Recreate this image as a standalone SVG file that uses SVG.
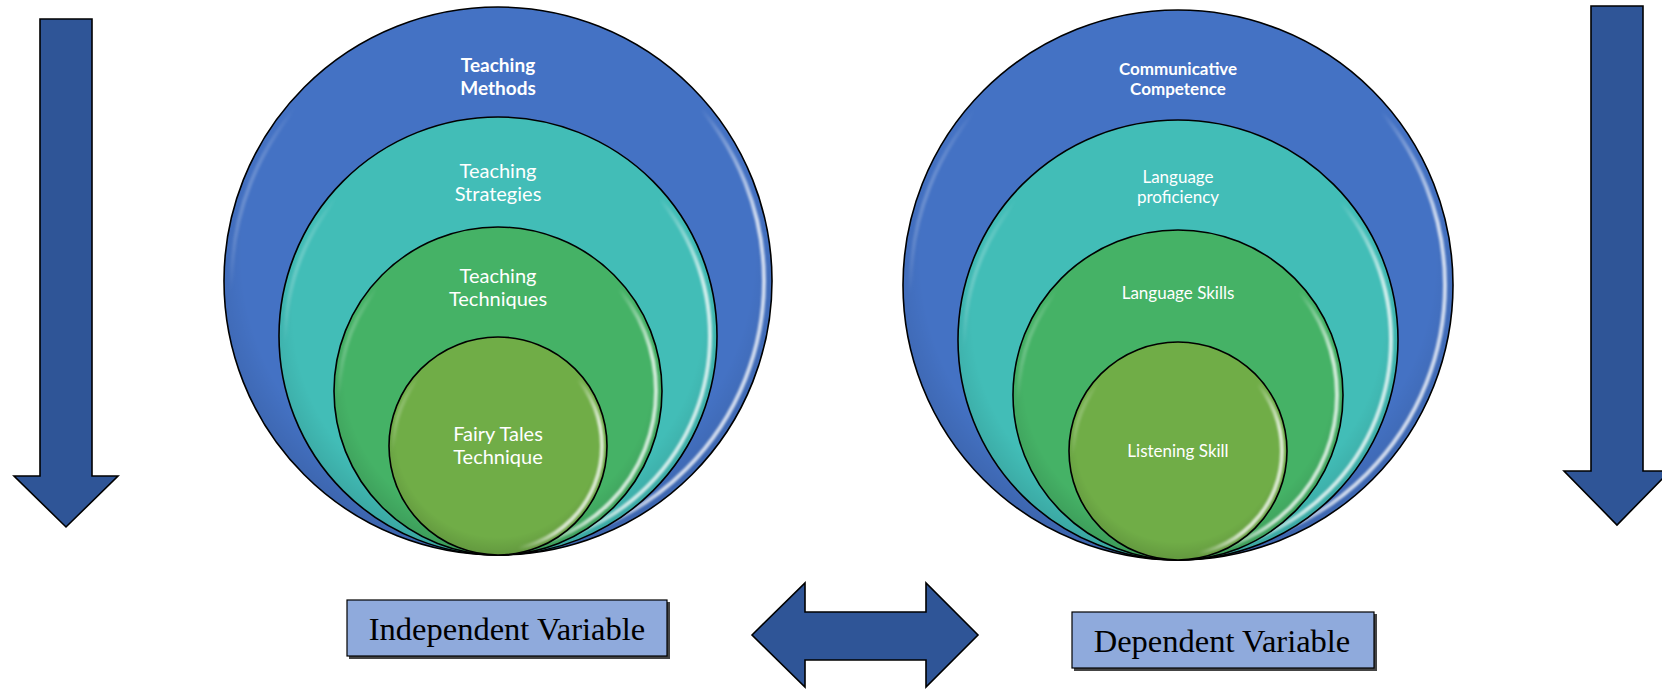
<svg xmlns="http://www.w3.org/2000/svg" width="1662" height="689" viewBox="0 0 1662 689">
<defs>
<style>
.ring{stroke:#000;stroke-width:1.6}
.blue{fill:#4472C4}
.teal{fill:#42BDB7}
.green{fill:#45B266}
.lime{fill:#70AD47}
.hl{fill:none;stroke:url(#hlg);stroke-width:4;filter:url(#soft)}
.lbl{font-family:Lato,"Open Sans","Liberation Sans",sans-serif;fill:#fff;text-anchor:middle}
.b{font-weight:bold}
.arrow{fill:#2F5597;stroke:#000;stroke-width:1.6;stroke-linejoin:miter}
.box{fill:#8FAADC;stroke:#000;stroke-width:1.2}
.shadow{fill:#444}
.var{font-family:"Liberation Serif","Times New Roman",serif;font-size:32.5px;fill:#000;text-anchor:middle}
</style>
<linearGradient id="hlg" x1="0" y1="0" x2="1" y2="0.35">
<stop offset="0" stop-color="#fff" stop-opacity="1"/>
<stop offset="0.16" stop-color="#fff" stop-opacity="0"/>
<stop offset="0.84" stop-color="#fff" stop-opacity="0"/>
<stop offset="1" stop-color="#fff" stop-opacity="0.75"/>
</linearGradient>
<radialGradient id="shade" cx="0.5" cy="0.45" r="0.55">
<stop offset="0.85" stop-color="#000" stop-opacity="0"/>
<stop offset="1" stop-color="#000" stop-opacity="0.12"/>
</radialGradient>
<filter id="soft" x="-10%" y="-10%" width="120%" height="120%"><feGaussianBlur stdDeviation="0.9"/></filter>
</defs>

<!-- vertical arrows -->
<g id="arrow-left">
<polygon class="arrow" points="40,19 92,19 92,476 118,476 66,527 14,476 40,476"/>
</g>
<g id="arrow-right">
<polygon class="arrow" points="1591,6 1643,6 1643,471 1670,471 1617,525 1564,471 1591,471"/>
</g>

<!-- left nested circles -->
<g id="teaching-methods">
<circle class="ring blue" cx="498" cy="281" r="274"/>
<circle cx="498" cy="281" r="274" fill="url(#shade)"/>
<circle class="hl" cx="498" cy="281" r="266"/>
<text class="lbl b" font-size="19" x="498" y="72">Teaching</text>
<text class="lbl b" font-size="19" x="498" y="95">Methods</text>
</g>
<g id="teaching-strategies">
<circle class="ring teal" cx="498" cy="336" r="219"/>
<circle cx="498" cy="336" r="219" fill="url(#shade)"/>
<circle class="hl" cx="498" cy="336" r="212"/>
<text class="lbl" font-size="20" x="498" y="178">Teaching</text>
<text class="lbl" font-size="20" x="498" y="201">Strategies</text>
</g>
<g id="teaching-techniques">
<circle class="ring green" cx="498" cy="391" r="164"/>
<circle cx="498" cy="391" r="164" fill="url(#shade)"/>
<circle class="hl" cx="498" cy="391" r="158"/>
<text class="lbl" font-size="20" x="498" y="283">Teaching</text>
<text class="lbl" font-size="20" x="498" y="306">Techniques</text>
</g>
<g id="fairy-tales-technique">
<circle class="ring lime" cx="498" cy="446" r="109"/>
<circle cx="498" cy="446" r="109" fill="url(#shade)"/>
<circle class="hl" cx="498" cy="446" r="104"/>
<text class="lbl" font-size="20" x="498" y="441">Fairy Tales</text>
<text class="lbl" font-size="20" x="498" y="464">Technique</text>
</g>

<!-- right nested circles -->
<g id="communicative-competence">
<circle class="ring blue" cx="1178" cy="285" r="275"/>
<circle cx="1178" cy="285" r="275" fill="url(#shade)"/>
<circle class="hl" cx="1178" cy="285" r="267"/>
<text class="lbl b" font-size="17" x="1178" y="75">Communicative</text>
<text class="lbl b" font-size="17" x="1178" y="95">Competence</text>
</g>
<g id="language-proficiency">
<circle class="ring teal" cx="1178" cy="340" r="220"/>
<circle cx="1178" cy="340" r="220" fill="url(#shade)"/>
<circle class="hl" cx="1178" cy="340" r="213"/>
<text class="lbl" font-size="17" x="1178" y="183">Language</text>
<text class="lbl" font-size="17" x="1178" y="203">proficiency</text>
</g>
<g id="language-skills">
<circle class="ring green" cx="1178" cy="395" r="165"/>
<circle cx="1178" cy="395" r="165" fill="url(#shade)"/>
<circle class="hl" cx="1178" cy="395" r="159"/>
<text class="lbl" font-size="17" x="1178" y="299">Language Skills</text>
</g>
<g id="listening-skill">
<circle class="ring lime" cx="1178" cy="451" r="109"/>
<circle cx="1178" cy="451" r="109" fill="url(#shade)"/>
<circle class="hl" cx="1178" cy="451" r="104"/>
<text class="lbl" font-size="17" x="1178" y="457">Listening Skill</text>
</g>

<!-- variable boxes -->
<g id="independent-variable">
<rect class="shadow" x="349" y="602" width="321" height="57"/>
<rect class="box" x="347" y="600" width="320" height="56"/>
<text class="var" x="507" y="640">Independent Variable</text>
</g>
<g id="dependent-variable">
<rect class="shadow" x="1074" y="614" width="303" height="57"/>
<rect class="box" x="1072" y="612" width="302" height="56"/>
<text class="var" x="1222" y="652">Dependent Variable</text>
</g>

<g id="connectors">
<polygon class="arrow" points="752,635 805,583 805,612 926,612 926,583 978,635 926,687 926,660 805,660 805,687"/>
</g>
</svg>
